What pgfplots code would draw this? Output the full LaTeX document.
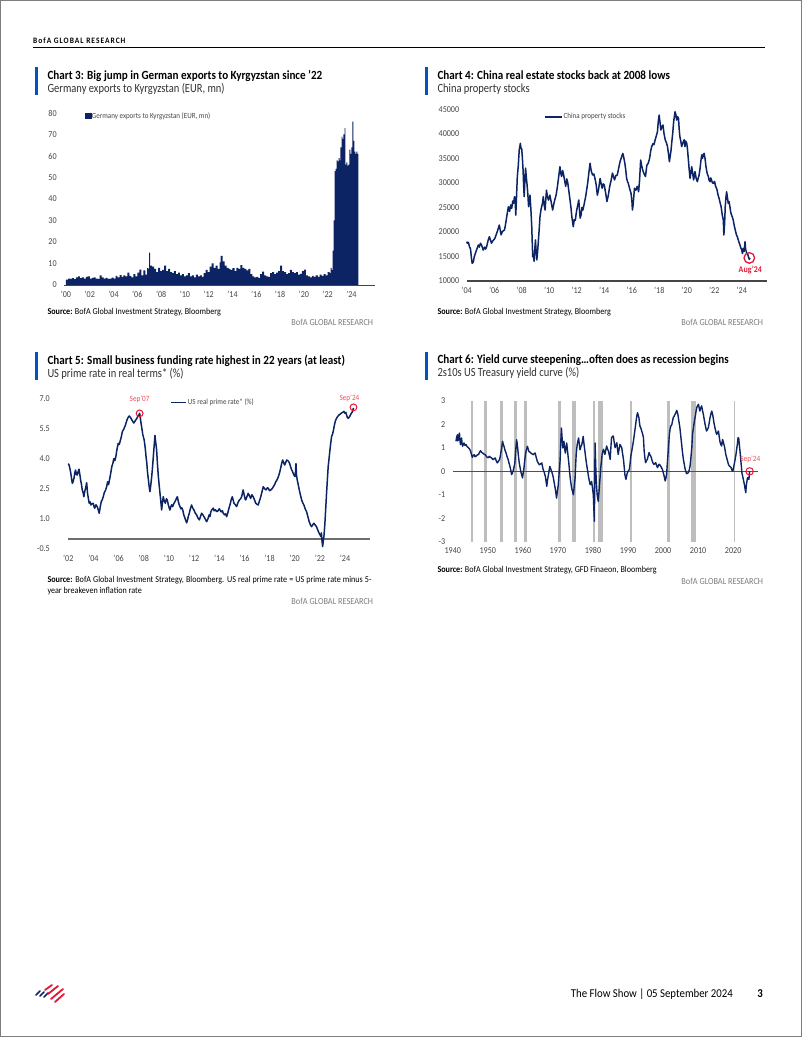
\documentclass[border=0pt]{standalone}
\usepackage{pgfplots}
\pgfplotsset{compat=1.18}
\usepackage{fontspec}
\setmainfont{Carlito}[FakeStretch=0.9]
\newfontfamily\ttlfont{Carlito}[FakeStretch=0.89]
\newfontfamily\subfont{Carlito}[FakeStretch=0.84]
\definecolor{navy}{RGB}{12,35,100}
\definecolor{bofablue}{RGB}{0,83,194}
\definecolor{bred}{RGB}{227,24,55}
\definecolor{lred}{RGB}{238,80,90}
\definecolor{recg}{RGB}{190,190,190}
\definecolor{tickc}{RGB}{70,70,70}
\definecolor{subc}{RGB}{50,50,50}
\definecolor{bgr}{RGB}{125,125,125}
\pgfplotsset{pg/.style={
  scale only axis, anchor=south west, clip=false,
  axis line style={draw=none}, tick style={draw=none}, major tick length=0pt,
  tick label style={font=\fontsize{9}{10}\selectfont, text=tickc},
  /pgf/number format/assume math mode=true,
  /pgf/number format/1000 sep={},
  scaled ticks=false,
  xticklabel style={yshift=-2.5pt}, yticklabel style={xshift=-4pt},
  legend cell align=left,
  legend style={draw=none, fill=none, inner sep=0pt, outer sep=0pt,
    font=\fontsize{7.8}{8}\selectfont, text=tickc, anchor=west,
    nodes={inner sep=1pt}},
}}
\newcommand{\ttl}[3]{%
  \node[anchor=base west, inner sep=0] at (#1pt,#2pt) {\ttlfont\bfseries\fontsize{12.5}{14}\selectfont #3};}
\newcommand{\sub}[3]{%
  \node[anchor=base west, inner sep=0, text=subc] at (#1pt,#2pt) {\subfont\fontsize{12.5}{14}\selectfont #3};}
\newcommand{\bgrlabel}[2]{%
  \node[anchor=base east, inner sep=0, text=bgr] at (#1pt,#2pt) {\fontsize{9.2}{10}\selectfont BofA GLOBAL RESEARCH};}
\begin{document}
\begin{tikzpicture}[x=1pt,y=1pt]
\useasboundingbox (0,0) rectangle (802,1037);
\fill[white] (0,0) rectangle (802,1037);
\draw[bgr, line width=1pt] (0.5,0.5) rectangle (801.5,1036.5);
% header
\node[anchor=base west, inner sep=0] at (33pt,993pt) {\fontsize{8.3}{9}\selectfont\bfseries\addfontfeatures{LetterSpace=12}BofA GLOBAL RESEARCH};
\draw[black, line width=1pt] (33,989) -- (765,989);

%================ Chart 3
\fill[bofablue] (35,942) rectangle (37.5,970.3);
\ttl{47.3}{957.7}{Chart 3: Big jump in German exports to Kyrgyzstan since ’22}
\sub{47.3}{944.7}{Germany exports to Kyrgyzstan (EUR, mn)}
\begin{axis}[pg, at={(64.2pt,752pt)}, width=311pt, height=172pt,
  xmin=1999.85, xmax=2026, ymin=0, ymax=80,
  xtick={2000,2002,...,2024},
  xticklabels={’00,’02,’04,’06,’08,’10,’12,’14,’16,’18,’20,’22,’24},
  ytick={0,10,...,80},
  legend style={at={(rel axis cs:0.067,0.983)}}]
\addplot[draw=none, fill=navy, const plot mark left, forget plot] table {
2000.00 2.5
2000.17 3.0
2000.33 2.8
2000.50 3.2
2000.67 2.7
2000.83 3.5
2001.00 4.0
2001.17 3.2
2001.33 3.6
2001.50 3.0
2001.67 3.8
2001.83 4.0
2002.00 3.0
2002.17 3.3
2002.33 3.5
2002.50 3.0
2002.67 2.8
2002.83 4.5
2003.00 3.5
2003.17 3.0
2003.33 3.3
2003.50 2.8
2003.67 3.0
2003.83 3.4
2004.00 3.0
2004.17 4.2
2004.33 3.5
2004.50 4.6
2004.67 3.8
2004.83 4.5
2005.00 4.0
2005.17 5.8
2005.33 4.2
2005.50 3.5
2005.67 5.0
2005.83 4.0
2006.00 5.8
2006.17 7.2
2006.33 4.5
2006.50 6.8
2006.67 4.8
2006.83 7.8
2006.92 7.5
2007.00 15.0
2007.08 9.0
2007.25 8.5
2007.42 7.5
2007.58 6.0
2007.75 8.0
2007.92 6.5
2008.08 7.0
2008.25 9.0
2008.42 6.5
2008.58 7.5
2008.75 6.0
2008.92 5.5
2009.08 6.5
2009.25 5.0
2009.42 5.8
2009.58 4.5
2009.75 5.0
2009.92 4.0
2010.08 4.5
2010.25 5.5
2010.42 4.0
2010.58 4.5
2010.75 3.5
2010.92 4.8
2011.08 4.0
2011.25 4.5
2011.42 3.8
2011.58 5.5
2011.75 7.0
2011.92 6.0
2012.08 8.5
2012.25 10.0
2012.42 8.0
2012.58 9.0
2012.75 7.5
2012.92 10.5
2013.00 13.5
2013.17 11.0
2013.33 9.0
2013.50 8.0
2013.67 7.5
2013.83 7.0
2014.00 7.8
2014.17 6.5
2014.33 8.0
2014.50 7.5
2014.67 9.2
2014.83 8.0
2015.00 7.5
2015.17 6.8
2015.33 7.5
2015.50 5.0
2015.67 4.0
2015.83 3.5
2016.00 3.8
2016.17 3.2
2016.33 5.0
2016.50 6.2
2016.67 4.5
2016.83 4.0
2017.00 3.8
2017.17 5.5
2017.33 6.0
2017.50 5.0
2017.67 5.8
2017.83 6.5
2018.00 9.0
2018.17 6.5
2018.33 6.0
2018.50 5.0
2018.67 5.5
2018.83 7.0
2019.00 6.0
2019.17 5.5
2019.33 6.0
2019.50 4.8
2019.67 5.2
2019.83 6.5
2020.00 7.2
2020.17 4.5
2020.33 4.0
2020.50 3.5
2020.67 4.2
2020.83 3.8
2021.00 4.5
2021.17 3.8
2021.33 4.8
2021.50 4.2
2021.67 5.0
2021.83 4.5
2022.00 6.0
2022.17 5.5
2022.25 8.0
2022.33 7.0
2022.42 16.0
2022.50 30.0
2022.58 53.0
2022.67 54.0
2022.75 58.0
2022.83 57.5
2022.92 59.0
2023.00 58.0
2023.08 64.0
2023.17 69.0
2023.25 68.0
2023.33 70.0
2023.42 73.0
2023.50 56.0
2023.58 57.0
2023.67 55.5
2023.75 56.0
2023.83 63.0
2023.92 61.0
2024.00 64.0
2024.08 76.0
2024.17 67.0
2024.25 62.0
2024.33 61.0
2024.42 62.0
2024.50 61.0
2024.58 61.0
} \closedcycle;
\addplot[draw=tickc, line width=0.8pt, forget plot] coordinates {(1999.85,0) (2026,0)};
\addlegendimage{legend image code/.code={\fill[navy] (0pt,-2.7pt) rectangle (5.5pt,2.7pt);}}
\addlegendentry{Germany exports to Kyrgyzstan (EUR, mn)}
\end{axis}
\node[anchor=base west, inner sep=0] at (47.3pt,722pt) {\fontsize{9}{10}\selectfont\textbf{Source:} BofA Global Investment Strategy, Bloomberg};
\bgrlabel{373.3}{711}

%================ Chart 4
\fill[bofablue] (425,942) rectangle (427.5,970.3);
\ttl{437.3}{957.7}{Chart 4: China real estate stocks back at 2008 lows}
\sub{437.3}{944.7}{China property stocks}
\begin{axis}[pg, at={(466.7pt,756pt)}, width=299.8pt, height=171.7pt,
  xmin=2004, xmax=2025.8, ymin=10000, ymax=45000,
  xtick={2004,2006,...,2024},
  xticklabels={’04,’06,’08,’10,’12,’14,’16,’18,’20,’22,’24},
  ytick={10000,15000,...,45000},
  legend style={at={(rel axis cs:0.258,0.955)}},
  legend image code/.code={\draw[navy, line width=1.6pt] (0pt,0pt) -- (17pt,0pt);}]
\addplot[draw=tickc, line width=1.2pt, forget plot] coordinates {(2004,10000) (2025.8,10000)};
\addplot[navy, line width=1.5pt, line join=round] table {
2004.00 18000
2004.05 17700
2004.12 17900
2004.20 17000
2004.28 16500
2004.35 14500
2004.40 13600
2004.48 13900
2004.55 14950
2004.65 15800
2004.75 16600
2004.85 17340
2004.92 16900
2005.00 17700
2005.10 17200
2005.20 16300
2005.30 16900
2005.38 16500
2005.45 17000
2005.55 18200
2005.65 19030
2005.72 18400
2005.80 17700
2005.90 18200
2006.00 18500
2006.05 18700
2006.15 19500
2006.25 20300
2006.37 21400
2006.45 20200
2006.50 19400
2006.60 20100
2006.75 20400
2006.85 22000
2006.95 23800
2007.03 25140
2007.12 24200
2007.20 25500
2007.27 24800
2007.35 26300
2007.40 25800
2007.48 27200
2007.53 26000
2007.57 23440
2007.62 27000
2007.68 31260
2007.75 33500
2007.82 36700
2007.87 37500
2007.90 38060
2007.95 37000
2008.00 37000
2008.05 35000
2008.10 32600
2008.14 29500
2008.18 27200
2008.23 30500
2008.28 33000
2008.34 31000
2008.40 29300
2008.45 27500
2008.50 25140
2008.55 26500
2008.60 27500
2008.67 24500
2008.73 21070
2008.77 17500
2008.80 14950
2008.85 15500
2008.90 14000
2008.95 16500
2009.00 18360
2009.05 16000
2009.10 14300
2009.15 15800
2009.20 17680
2009.27 20500
2009.33 23100
2009.40 24500
2009.45 25140
2009.52 26000
2009.57 27200
2009.63 25500
2009.70 24460
2009.75 26500
2009.80 28500
2009.87 27200
2009.95 26500
2010.05 27500
2010.15 26000
2010.25 24460
2010.32 25500
2010.40 26500
2010.50 27500
2010.60 29300
2010.70 31500
2010.78 33300
2010.84 32000
2010.90 31300
2010.98 32500
2011.05 31600
2011.12 30500
2011.20 29300
2011.28 30800
2011.35 30000
2011.42 28500
2011.50 26800
2011.58 25000
2011.65 23000
2011.75 21070
2011.82 22500
2011.90 22400
2011.95 23500
2012.00 24460
2012.08 25500
2012.15 26500
2012.20 24500
2012.25 22800
2012.32 23500
2012.38 25000
2012.45 24460
2012.55 25800
2012.65 27200
2012.72 28500
2012.80 30000
2012.88 32000
2012.97 34000
2013.05 32500
2013.15 31600
2013.25 31800
2013.35 30600
2013.42 29500
2013.50 27500
2013.58 28500
2013.70 30900
2013.78 29800
2013.85 28900
2013.92 29800
2014.00 29600
2014.10 28000
2014.20 26200
2014.30 27500
2014.40 29300
2014.50 30500
2014.60 32000
2014.68 31200
2014.75 30600
2014.85 31500
2014.95 31600
2015.05 33000
2015.15 34300
2015.25 35200
2015.35 36000
2015.42 35200
2015.50 34000
2015.57 32500
2015.63 30900
2015.70 30200
2015.75 29900
2015.85 28800
2015.95 27870
2016.02 26000
2016.05 24470
2016.10 25500
2016.20 28900
2016.30 28500
2016.40 29300
2016.50 28200
2016.57 30500
2016.65 34660
2016.72 33500
2016.80 32600
2016.90 31800
2017.00 31300
2017.10 33600
2017.20 34000
2017.30 35000
2017.38 36500
2017.45 37400
2017.55 38000
2017.62 37800
2017.70 38740
2017.78 39500
2017.87 40430
2017.93 42500
2017.99 43830
2018.05 42500
2018.12 40770
2018.20 41500
2018.27 41800
2018.35 40000
2018.44 38740
2018.52 38200
2018.60 37400
2018.67 36000
2018.74 34300
2018.80 35500
2018.86 36700
2018.92 38500
2018.98 40100
2019.05 42500
2019.10 43500
2019.15 44500
2019.20 44000
2019.27 42800
2019.33 43500
2019.40 43200
2019.45 41000
2019.50 39420
2019.57 38500
2019.63 37400
2019.70 38000
2019.75 38400
2019.82 38800
2019.87 37400
2019.93 38500
2020.00 38060
2020.05 37000
2020.10 35360
2020.17 33000
2020.24 30930
2020.30 32000
2020.36 33300
2020.43 32000
2020.50 30600
2020.55 31500
2020.60 32300
2020.68 31000
2020.77 30250
2020.84 31000
2020.90 31600
2020.97 33000
2021.03 34500
2021.09 35700
2021.15 35000
2021.20 35800
2021.26 36000
2021.33 35000
2021.40 33300
2021.48 32000
2021.57 31300
2021.63 30500
2021.70 30250
2021.75 31000
2021.80 30600
2021.87 30000
2021.94 29900
2022.02 30300
2022.10 29300
2022.15 29000
2022.20 28600
2022.28 27500
2022.35 26900
2022.42 26000
2022.50 25140
2022.58 23500
2022.66 22430
2022.70 19370
2022.75 21500
2022.80 25140
2022.85 27000
2022.90 28200
2022.96 27000
2023.02 25800
2023.08 26200
2023.14 25140
2023.20 24000
2023.26 23440
2023.32 23000
2023.38 22430
2023.44 21500
2023.50 20730
2023.56 20000
2023.62 19370
2023.68 19000
2023.75 18360
2023.81 17800
2023.87 17340
2023.93 16800
2024.00 16300
2024.05 15600
2024.10 16640
2024.17 16000
2024.24 18010
2024.28 16500
2024.33 15960
2024.38 15600
2024.45 15300
2024.50 14800
2024.55 14420
2024.60 14700
};
\addlegendentry{China property stocks}
\addplot[only marks, mark=o, mark size=5.3pt, mark options={draw=bred, line width=1.3pt}, forget plot] coordinates {(2024.55,14700)};
\node[text=bred, font=\fontsize{8.8}{9}\selectfont\bfseries] at (axis cs:2024.62,12150) {Aug’24};
\end{axis}
\node[anchor=base west, inner sep=0] at (437.3pt,722pt) {\fontsize{9}{10}\selectfont\textbf{Source:} BofA Global Investment Strategy, Bloomberg};
\bgrlabel{763.3}{711}

%================ Chart 5
\fill[bofablue] (35,657) rectangle (37.5,685.3);
\ttl{47.3}{672.7}{Chart 5: Small business funding rate highest in 22 years (at least)}
\sub{47.3}{659.7}{US prime rate in real terms* (\%)}
\begin{axis}[pg, at={(68.3pt,488pt)}, width=301.9pt, height=150.7pt,
  xmin=2002, xmax=2026, ymin=-0.5, ymax=7,
  xtick={2002,2004,...,2024},
  xticklabels={’02,’04,’06,’08,’10,’12,’14,’16,’18,’20,’22,’24},
  ytick={-0.5,1,2.5,4,5.5,7},
  yticklabel style={xshift=-11pt, /pgf/number format/.cd, fixed, fixed zerofill, precision=1},
  legend style={at={(rel axis cs:0.338,0.973)}},
  legend image code/.code={\draw[navy, line width=1.6pt] (0pt,0pt) -- (15pt,0pt);}]
\addplot[draw={rgb,255:red,110;green,110;blue,110}, line width=1.6pt, forget plot] coordinates {(2002,0) (2026,0)};
\addplot[navy, line width=1.5pt, line join=round] table {
2002.00 3.75
2002.06 3.68
2002.13 3.5
2002.20 3.27
2002.26 3.0
2002.32 2.77
2002.38 2.85
2002.45 3.02
2002.52 3.3
2002.58 3.43
2002.65 3.2
2002.72 3.18
2002.78 3.35
2002.85 3.47
2002.92 3.2
2002.98 2.93
2003.05 2.7
2003.11 2.44
2003.18 2.3
2003.24 2.1
2003.30 2.35
2003.40 2.6
2003.46 2.8
2003.53 2.27
2003.60 2.0
2003.66 1.78
2003.73 1.85
2003.80 1.69
2003.88 1.75
2003.98 1.78
2004.05 1.6
2004.10 1.53
2004.20 1.7
2004.30 1.61
2004.38 1.45
2004.46 1.28
2004.54 1.6
2004.62 1.86
2004.70 1.95
2004.78 2.1
2004.86 2.3
2004.97 2.44
2005.05 2.6
2005.13 2.85
2005.20 2.7
2005.30 3.02
2005.38 3.3
2005.46 3.6
2005.54 3.75
2005.62 4.0
2005.70 3.9
2005.78 4.1
2005.88 4.5
2005.97 4.76
2006.05 4.7
2006.15 4.93
2006.22 5.1
2006.30 5.35
2006.40 5.45
2006.50 5.6
2006.58 5.75
2006.67 5.93
2006.76 6.05
2006.85 6.12
2006.94 6.05
2007.03 5.95
2007.12 5.85
2007.21 5.77
2007.29 5.85
2007.37 5.93
2007.45 6.0
2007.52 6.1
2007.60 6.15
2007.67 6.25
2007.73 6.0
2007.78 5.77
2007.85 5.5
2007.92 5.2
2008.00 5.0
2008.03 4.93
2008.08 4.7
2008.13 4.44
2008.18 4.1
2008.24 3.78
2008.30 3.3
2008.37 2.93
2008.43 2.6
2008.49 2.35
2008.56 2.7
2008.63 3.1
2008.70 3.6
2008.76 4.1
2008.82 4.6
2008.89 5.15
2008.95 4.8
2009.02 4.44
2009.08 3.8
2009.16 3.1
2009.22 2.7
2009.29 2.27
2009.35 1.9
2009.42 1.44
2009.48 1.8
2009.55 2.1
2009.62 1.9
2009.71 1.78
2009.80 2.0
2009.87 1.94
2009.95 1.7
2010.02 1.55
2010.08 1.44
2010.15 1.6
2010.22 1.7
2010.30 1.61
2010.38 1.75
2010.48 1.86
2010.55 1.95
2010.62 2.05
2010.67 2.1
2010.75 1.85
2010.82 1.7
2010.88 1.61
2010.95 1.5
2011.02 1.55
2011.10 1.44
2011.18 1.2
2011.28 1.03
2011.35 0.9
2011.41 0.8
2011.48 0.95
2011.55 1.15
2011.62 1.28
2011.70 1.5
2011.80 1.69
2011.88 1.55
2011.99 1.44
2012.08 1.3
2012.20 1.2
2012.30 1.05
2012.42 0.95
2012.50 1.1
2012.60 1.28
2012.70 1.2
2012.79 1.1
2012.88 1.0
2013.00 0.86
2013.10 1.0
2013.20 1.2
2013.26 1.11
2013.33 1.35
2013.40 1.44
2013.48 1.5
2013.53 1.53
2013.60 1.4
2013.70 1.45
2013.80 1.36
2013.90 1.4
2014.00 1.5
2014.06 1.44
2014.15 1.35
2014.25 1.4
2014.32 1.28
2014.42 1.2
2014.50 1.25
2014.59 1.11
2014.68 1.3
2014.76 1.5
2014.85 1.69
2014.95 1.95
2015.04 2.1
2015.10 1.95
2015.17 1.78
2015.28 1.7
2015.38 1.61
2015.48 1.8
2015.60 1.94
2015.70 2.0
2015.78 2.1
2015.85 2.3
2015.90 2.44
2015.98 2.2
2016.05 2.0
2016.10 1.94
2016.20 2.1
2016.30 2.27
2016.40 2.15
2016.50 2.02
2016.60 2.2
2016.70 2.1
2016.80 1.95
2016.90 1.78
2017.00 1.72
2017.10 1.69
2017.20 1.9
2017.30 2.1
2017.40 2.35
2017.50 2.6
2017.60 2.5
2017.72 2.44
2017.82 2.55
2017.90 2.52
2018.00 2.4
2018.10 2.44
2018.20 2.5
2018.30 2.6
2018.40 2.7
2018.50 2.85
2018.60 2.95
2018.70 3.1
2018.80 3.3
2018.88 3.52
2018.96 3.75
2019.04 3.93
2019.12 3.8
2019.20 3.68
2019.28 3.8
2019.36 3.93
2019.44 3.9
2019.52 3.85
2019.60 3.75
2019.67 3.6
2019.75 3.45
2019.83 3.35
2019.92 3.2
2020.02 3.1
2020.06 3.3
2020.10 3.75
2020.14 3.2
2020.20 2.93
2020.28 2.7
2020.36 2.44
2020.45 2.2
2020.55 1.94
2020.64 1.8
2020.73 1.69
2020.83 1.5
2020.94 1.36
2021.05 1.1
2021.15 0.86
2021.25 0.7
2021.34 0.61
2021.43 0.7
2021.52 0.78
2021.62 0.7
2021.73 0.61
2021.83 0.45
2021.94 0.28
2022.02 0.2
2022.07 0.12
2022.12 0.3
2022.17 -0.1
2022.22 -0.38
2022.27 -0.1
2022.32 0.12
2022.38 0.6
2022.43 1.11
2022.48 1.7
2022.53 2.27
2022.60 3.0
2022.66 3.6
2022.73 4.0
2022.80 4.43
2022.87 4.8
2022.93 5.1
2023.00 5.2
2023.06 5.35
2023.12 5.55
2023.19 5.77
2023.25 5.9
2023.32 6.0
2023.42 6.1
2023.54 6.18
2023.63 6.22
2023.72 6.27
2023.82 6.3
2023.91 6.35
2024.00 6.25
2024.06 6.3
2024.12 6.18
2024.18 6.05
2024.25 6.0
2024.32 6.05
2024.39 6.12
2024.45 6.2
2024.52 6.27
2024.60 6.35
2024.67 6.52
};
\addlegendentry{US real prime rate* (\%)}
\addplot[only marks, mark=o, mark size=3.4pt, mark options={draw=bred, line width=1pt}, forget plot] coordinates {(2007.67,6.25) (2024.67,6.55)};
\node[text=lred, font=\fontsize{8}{8}\selectfont] at (axis cs:2007.67,6.95) {Sep’07};
\node[text=lred, font=\fontsize{8}{8}\selectfont] at (axis cs:2024.35,7.0) {Sep’24};
\end{axis}
\node[anchor=base west, inner sep=0] at (47.3pt,454.5pt) {\fontsize{9}{10}\selectfont\makebox[324pt][s]{\textbf{Source:} BofA Global Investment Strategy, Bloomberg. US real prime rate = US prime rate minus 5-}};
\node[anchor=base west, inner sep=0] at (47.3pt,443pt) {\fontsize{9}{10}\selectfont year breakeven inflation rate};
\bgrlabel{373.3}{432}

%================ Chart 6
\fill[bofablue] (425,657) rectangle (427.5,685.3);
\ttl{437.3}{673}{Chart 6: Yield curve steepening…often does as recession begins}
\sub{437.3}{660}{2s10s US Treasury yield curve (\%)}
\begin{axis}[pg, at={(452.8pt,495.3pt)}, width=304.9pt, height=140.7pt,
  xmin=1940, xmax=2027, ymin=-3, ymax=3,
  xtick={1940,1950,...,2020},
  ytick={-3,-2,...,3}]
\addplot[fill=recg, draw=none] coordinates {(1945.1,-3) (1945.8,-3) (1945.8,3) (1945.1,3)} -- cycle;
\addplot[fill=recg, draw=none] coordinates {(1948.9,-3) (1949.8,-3) (1949.8,3) (1948.9,3)} -- cycle;
\addplot[fill=recg, draw=none] coordinates {(1953.5,-3) (1954.4,-3) (1954.4,3) (1953.5,3)} -- cycle;
\addplot[fill=recg, draw=none] coordinates {(1957.6,-3) (1958.3,-3) (1958.3,3) (1957.6,3)} -- cycle;
\addplot[fill=recg, draw=none] coordinates {(1960.3,-3) (1961.1,-3) (1961.1,3) (1960.3,3)} -- cycle;
\addplot[fill=recg, draw=none] coordinates {(1969.9,-3) (1970.9,-3) (1970.9,3) (1969.9,3)} -- cycle;
\addplot[fill=recg, draw=none] coordinates {(1973.9,-3) (1975.2,-3) (1975.2,3) (1973.9,3)} -- cycle;
\addplot[fill=recg, draw=none] coordinates {(1980.0,-3) (1980.5,-3) (1980.5,3) (1980.0,3)} -- cycle;
\addplot[fill=recg, draw=none] coordinates {(1981.5,-3) (1982.9,-3) (1982.9,3) (1981.5,3)} -- cycle;
\addplot[fill=recg, draw=none] coordinates {(1990.5,-3) (1991.2,-3) (1991.2,3) (1990.5,3)} -- cycle;
\addplot[fill=recg, draw=none] coordinates {(2001.2,-3) (2001.9,-3) (2001.9,3) (2001.2,3)} -- cycle;
\addplot[fill=recg, draw=none] coordinates {(2007.9,-3) (2009.5,-3) (2009.5,3) (2007.9,3)} -- cycle;
\addplot[fill=recg, draw=none] coordinates {(2020.1,-3) (2020.5,-3) (2020.5,3) (2020.1,3)} -- cycle;
\addplot[draw={rgb,255:red,80;green,80;blue,80}, line width=0.8pt] coordinates {(1940,0) (2027,0)};
\addplot[navy, line width=1.4pt, line join=round] table {
1940.9 1.28
1941.1 1.45
1941.3 1.56
1941.45 1.3
1941.6 1.35
1941.75 1.55
1941.9 1.63
1942.05 1.3
1942.2 1.14
1942.35 1.3
1942.5 1.42
1942.65 1.2
1942.8 1.07
1943.0 1.15
1943.2 1.21
1943.5 1.1
1943.8 1.14
1944.1 1.05
1944.4 1.02
1944.8 0.95
1945.1 0.85
1945.35 0.7
1945.6 0.6
1945.85 0.68
1946.1 0.71
1946.35 0.62
1946.6 0.64
1946.95 0.7
1947.3 0.71
1947.6 0.8
1947.9 0.88
1948.2 0.82
1948.5 0.78
1948.85 0.74
1949.2 0.71
1949.5 0.66
1949.8 0.6
1950.1 0.58
1950.4 0.64
1950.75 0.6
1951.1 0.57
1951.35 0.52
1951.6 0.5
1951.85 0.55
1952.1 0.57
1952.4 0.45
1952.7 0.36
1953.0 0.42
1953.3 0.5
1953.5 0.6
1953.7 0.78
1953.95 1.0
1954.2 1.28
1954.4 1.15
1954.6 1.07
1954.9 0.9
1955.2 0.78
1955.5 0.62
1955.8 0.5
1956.05 0.35
1956.3 0.21
1956.55 0.05
1956.8 -0.14
1957.05 -0.05
1957.3 0.07
1957.5 0.2
1957.7 0.36
1957.95 0.9
1958.2 1.35
1958.35 1.2
1958.5 1.0
1958.7 0.7
1958.9 0.43
1959.15 0.2
1959.4 0.0
1959.65 -0.15
1959.9 -0.28
1960.1 -0.05
1960.3 0.14
1960.55 0.5
1960.8 0.78
1961.05 0.95
1961.3 1.07
1961.5 0.95
1961.7 0.85
1962.0 0.82
1962.3 0.78
1962.65 0.74
1963.0 0.71
1963.25 0.76
1963.5 0.78
1963.8 0.6
1964.1 0.43
1964.4 0.35
1964.7 0.28
1965.05 0.32
1965.4 0.36
1965.6 0.2
1965.8 0.07
1966.1 -0.05
1966.4 -0.21
1966.6 -0.4
1966.8 -0.64
1967.05 -0.35
1967.3 -0.14
1967.5 0.05
1967.7 0.21
1967.95 0.1
1968.2 0.0
1968.45 -0.12
1968.7 -0.28
1968.95 -0.5
1969.2 -0.71
1969.4 -0.9
1969.6 -1.14
1969.85 -0.85
1970.1 -0.57
1970.35 -0.05
1970.6 0.43
1970.8 1.2
1971.0 1.85
1971.2 1.4
1971.4 1.0
1971.55 1.15
1971.7 1.28
1971.9 1.0
1972.1 0.78
1972.3 1.0
1972.5 1.21
1972.75 0.85
1973.0 0.5
1973.2 0.2
1973.4 -0.14
1973.65 -0.45
1973.9 -0.71
1974.15 -0.85
1974.4 -1.0
1974.65 -0.65
1974.9 -0.28
1975.05 0.25
1975.2 0.71
1975.35 0.95
1975.5 1.14
1975.7 1.3
1975.9 1.42
1976.1 1.15
1976.3 0.92
1976.55 1.05
1976.8 1.14
1977.0 1.3
1977.2 1.49
1977.45 1.15
1977.7 0.85
1977.95 0.55
1978.2 0.28
1978.45 0.05
1978.7 -0.21
1978.95 -0.4
1979.2 -0.57
1979.4 -0.5
1979.6 -0.43
1979.85 -0.7
1980.1 -1.0
1980.25 -1.6
1980.4 -2.13
1980.5 -0.5
1980.6 1.21
1980.75 0.4
1980.9 -0.28
1981.05 -0.7
1981.2 -1.0
1981.35 -1.15
1981.5 -1.28
1981.65 -1.0
1981.8 -0.71
1982.0 -0.3
1982.2 0.14
1982.4 0.4
1982.6 0.71
1982.8 0.85
1983.0 0.94
1983.2 0.85
1983.4 0.72
1983.65 0.9
1983.9 1.08
1984.15 0.95
1984.4 0.87
1984.65 0.7
1984.9 0.51
1985.1 1.0
1985.3 1.44
1985.55 1.48
1985.8 1.51
1986.05 1.25
1986.3 1.01
1986.55 1.12
1986.8 1.22
1987.0 0.95
1987.2 0.72
1987.45 0.95
1987.7 1.15
1987.95 1.08
1988.2 1.01
1988.45 0.75
1988.7 0.51
1988.9 0.2
1989.1 -0.13
1989.25 -0.25
1989.4 -0.34
1989.6 -0.2
1989.8 -0.06
1990.1 0.02
1990.4 0.09
1990.6 0.35
1990.8 0.65
1991.05 0.85
1991.3 1.08
1991.55 1.3
1991.8 1.58
1992.05 1.85
1992.3 2.15
1992.5 2.35
1992.7 2.5
1992.9 2.4
1993.1 2.29
1993.25 2.1
1993.4 1.93
1993.65 1.85
1993.9 1.72
1994.15 1.6
1994.4 1.44
1994.5 1.15
1994.6 0.87
1994.8 0.6
1995.0 0.37
1995.25 0.45
1995.5 0.51
1995.75 0.65
1996.0 0.8
1996.25 0.7
1996.5 0.65
1996.7 0.55
1996.9 0.44
1997.15 0.35
1997.4 0.3
1997.65 0.33
1997.9 0.37
1998.15 0.25
1998.4 0.16
1998.6 0.22
1998.8 0.3
1999.05 0.28
1999.3 0.23
1999.55 0.15
1999.8 0.09
2000.05 -0.05
2000.3 -0.2
2000.45 -0.3
2000.6 -0.41
2000.8 -0.3
2001.0 -0.13
2001.2 0.3
2001.4 0.72
2001.6 1.15
2001.8 1.58
2002.0 1.8
2002.2 1.93
2002.35 1.95
2002.5 2.0
2002.7 2.15
2002.9 2.29
2003.15 2.35
2003.4 2.43
2003.65 2.5
2003.9 2.6
2004.1 2.5
2004.3 2.36
2004.55 2.1
2004.8 1.86
2005.05 1.5
2005.3 1.15
2005.55 0.8
2005.8 0.51
2006.05 0.3
2006.3 0.09
2006.5 0.0
2006.7 -0.1
2006.95 -0.08
2007.2 -0.06
2007.45 0.05
2007.7 0.23
2007.95 0.6
2008.2 1.01
2008.4 1.58
2008.6 1.8
2008.8 2.0
2009.0 2.2
2009.2 2.36
2009.4 2.55
2009.6 2.72
2009.85 2.8
2010.1 2.86
2010.3 2.7
2010.5 2.57
2010.75 2.7
2011.0 2.79
2011.25 2.6
2011.5 2.43
2011.75 2.2
2012.0 2.0
2012.2 1.85
2012.4 1.72
2012.65 1.78
2012.9 1.86
2013.15 2.05
2013.4 2.29
2013.65 2.45
2013.9 2.57
2014.1 2.45
2014.3 2.29
2014.55 2.05
2014.8 1.86
2015.05 1.7
2015.3 1.58
2015.55 1.65
2015.8 1.72
2016.0 1.5
2016.2 1.29
2016.45 1.15
2016.7 1.08
2016.85 1.25
2017.0 1.36
2017.25 1.2
2017.5 1.08
2017.7 0.9
2017.9 0.72
2018.15 0.58
2018.4 0.44
2018.65 0.3
2018.9 0.23
2019.15 0.2
2019.4 0.16
2019.65 0.05
2019.9 0.01
2020.1 0.15
2020.3 0.3
2020.55 0.5
2020.8 0.72
2021.0 0.95
2021.2 1.15
2021.4 1.44
2021.6 1.4
2021.75 1.15
2021.9 0.94
2022.05 0.7
2022.2 0.44
2022.35 0.2
2022.5 -0.06
2022.7 -0.2
2022.9 -0.34
2023.05 -0.45
2023.2 -0.55
2023.4 -0.75
2023.6 -0.91
2023.7 -0.7
2023.8 -0.55
2023.95 -0.4
2024.1 -0.27
2024.3 -0.3
2024.5 -0.34
2024.6 -0.15
2024.7 0.0
};
\addplot[only marks, mark=o, mark size=3.7pt, mark options={draw=bred, line width=1pt}] coordinates {(2024.7,0)};
\node[text=lred, font=\fontsize{8}{8}\selectfont] at (axis cs:2024.9,0.52) {Sep’24};
\end{axis}
\node[anchor=base west, inner sep=0] at (437.3pt,464.5pt) {\fontsize{9}{10}\selectfont\textbf{Source:} BofA Global Investment Strategy, GFD Finaeon, Bloomberg};
\bgrlabel{763.3}{452.5}

%================ Footer
\begin{scope}[line cap=round]
\draw[navy, line width=1.6pt] (36,42) -- (40,46);
\draw[navy, line width=1.6pt] (40,41) -- (44,45);
\draw[navy, line width=1.6pt] (44,40) -- (48,44);
\draw[bred, line width=1.8pt] (45,47) -- (52,52);
\draw[bred, line width=1.8pt] (48,43) -- (58,51);
\draw[bred, line width=1.8pt] (51,38) -- (63,48);
\draw[bred, line width=1.8pt] (55,35) -- (64,43);
\end{scope}
\node[anchor=base east, inner sep=0] at (733pt,39pt) {\fontsize{12}{14}\selectfont The Flow Show | 05 September 2024};
\node[anchor=base, inner sep=0] at (760pt,39pt) {\fontsize{12}{14}\selectfont\bfseries 3};
\end{tikzpicture}
\end{document}
